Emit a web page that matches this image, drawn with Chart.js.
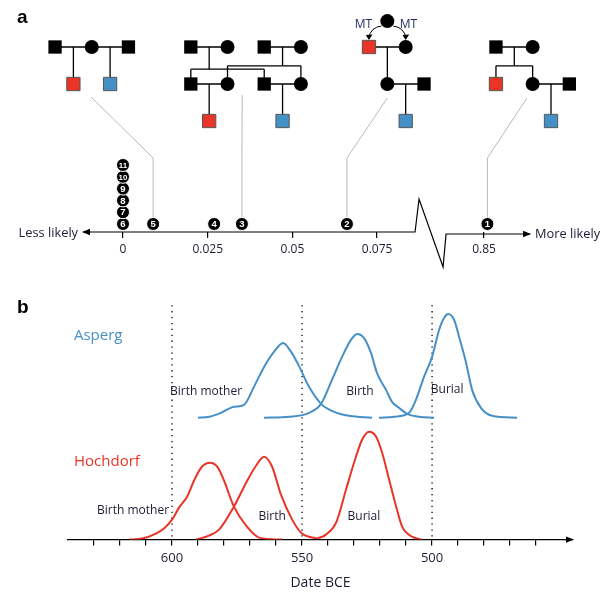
<!DOCTYPE html>
<html>
<head>
<meta charset="utf-8">
<script src="https://cdn.jsdelivr.net/npm/chart.js@4.4.1/dist/chart.umd.min.js"></script>
<style>
  html, body { margin: 0; padding: 0; background: #fff; }
  #wrap { position: relative; width: 611px; height: 595px; }
  #chartA { position: absolute; left: 0; top: 0; }
  #chartB { position: absolute; left: 0; top: 290px; }
</style>
</head>
<body>
<div id="wrap">
  <canvas id="chartA" width="611" height="275"></canvas>
  <canvas id="chartB" width="611" height="305"></canvas>
</div>
<script>
// ---- panel a: likelihood of each numbered pedigree ----
const pedIds   = [6, 7, 8, 9, 10, 11, 5, 4, 3, 2];
const pedLik   = [0, 0, 0, 0, 0, 0, 0.0089, 0.0269, 0.0351, 0.0661];
const pedStack = [0, 1, 2, 3, 4, 5, 0, 0, 0, 0];
const topIds   = [1];
const topLik   = [0.851];
const leftTicks  = [0, 0.025, 0.05, 0.075];
const rightTicks = [0.85];
const axisLeft  = [-0.0118, 0.0862];  // arrow tip, break
const axisRight = [0.8388, 0.8636];   // break, arrow tip

// pedigree drawings (column, generation, kind) in grid units
const famBase = [0, 7.4, 17.11, 24.03];
const famNodes = [
  [[0, 0, 's'], [2, 0, 'c'], [4, 0, 's'], [1, 1, 'r'], [3, 1, 'b']],
  [[0, 0, 's'], [2, 0, 'c'], [4, 0, 's'], [6, 0, 'c'], [0, 1, 's'], [2, 1, 'c'], [4, 1, 's'], [6, 1, 'c'], [1, 2, 'r'], [5, 2, 'b']],
  [[1, -0.7, 'c'], [0, 0, 'r'], [2, 0, 'c'], [1, 1, 'c'], [3, 1, 's'], [2, 2, 'b']],
  [[0, 0, 's'], [2, 0, 'c'], [0, 1, 'r'], [2, 1, 'c'], [4, 1, 's'], [3, 2, 'b']]
];
const famLines = [
  [[0, 0, 2, 0], [2, 0, 4, 0], [1, 0, 1, 1], [3, 0, 3, 1]],
  [[0, 0, 2, 0], [4, 0, 6, 0], [1, 0, 1, 0.6], [0, 0.6, 4, 0.6], [0, 0.6, 0, 1], [4, 0.6, 4, 1],
   [5, 0, 5, 0.51], [2, 0.51, 6, 0.51], [2, 0.51, 2, 1], [6, 0.51, 6, 1],
   [0, 1, 2, 1], [4, 1, 6, 1], [1, 1, 1, 2], [5, 1, 5, 2]],
  [[0, 0, 2, 0], [1, 0, 1, 1], [1, 1, 3, 1], [2, 1, 2, 2]],
  [[0, 0, 2, 0], [1, 0, 1, 0.51], [0, 0.51, 2, 0.51], [0, 0.51, 0, 1], [2, 0.51, 2, 1], [2, 1, 4, 1], [3, 1, 3, 2]]
];
// grey leader from each family to its point on the axis
const leaderFrom = [[1.96, 1.35], [10.2, 1.30], [18.11, 1.38], [25.72, 1.38]];
const leaderTo   = [5, 3, 2, 1];
const leaderKnee = 3.0;

// ---- panel b: date densities (years BCE, relative height) ----
const asMotherDate = [590, 585.8, 581.2, 576.2, 572.3, 568.5, 564.6, 560.8, 557.3, 554.2, 551.2, 547.3, 542.7, 537.7, 531.9, 523.1];
const asMotherDens = [0, 0.01, 0.05, 0.11, 0.13, 0.31, 0.51, 0.66, 0.75, 0.66, 0.52, 0.31, 0.14, 0.06, 0.02, 0];
const asBirthDate  = [564.6, 555, 547.3, 542.7, 538.5, 534.6, 531.2, 528.8, 526.2, 523.5, 521.2, 517.7, 515.4, 512.7, 509.6, 505, 499.2];
const asBirthDens  = [0, 0.01, 0.05, 0.14, 0.38, 0.61, 0.78, 0.84, 0.80, 0.65, 0.45, 0.28, 0.16, 0.10, 0.04, 0.01, 0];
const asBurialDate = [520.4, 514.6, 508.8, 506.2, 503.1, 500, 497.3, 495.4, 493.8, 491.5, 489.6, 486.9, 484.6, 481.2, 476.9, 467.3];
const asBurialDens = [0, 0.01, 0.05, 0.18, 0.41, 0.61, 0.88, 1.0, 1.04, 0.98, 0.81, 0.55, 0.28, 0.10, 0.02, 0];
const hoMotherDate = [616.5, 611.5, 606.2, 603.1, 600, 597.3, 594.2, 591.2, 588.5, 585.4, 582.6, 580, 576.2, 571.2, 566.5, 557.7];
const hoMotherDens = [0, 0.01, 0.06, 0.11, 0.20, 0.32, 0.43, 0.61, 0.73, 0.77, 0.73, 0.59, 0.33, 0.13, 0.02, 0];
const hoBirthDate  = [590.8, 585.8, 581.9, 576.2, 571.5, 567.7, 564.6, 561.5, 558.1, 553.8, 550, 544.2];
const hoBirthDens  = [0, 0.04, 0.10, 0.33, 0.57, 0.74, 0.83, 0.73, 0.45, 0.20, 0.06, 0.01];
const hoBurialDate = [544.2, 540.8, 536.9, 533.1, 530, 526.9, 524.2, 521.5, 519.2, 516.5, 513.8, 511.5, 507.7, 503.8];
const hoBurialDens = [0.01, 0.05, 0.17, 0.50, 0.77, 1.00, 1.08, 1.03, 0.87, 0.60, 0.33, 0.13, 0.03, 0];
const asOffset = 1.22;
const markDates = [600, 550, 500];
const dateTicks = [460, 470, 480, 490, 500, 510, 520, 530, 540, 550, 560, 570, 580, 590, 600, 610, 620, 630];
const curveLabels = ['Birth mother', 'Birth', 'Burial', 'Birth mother', 'Birth', 'Burial'];
const curveLabelAt = [[586.9, 1.48], [527.7, 1.48], [494.2, 1.50], [615, 0.29], [561.5, 0.23], [526.2, 0.23]];
const groupNames = ['Asperg', 'Hochdorf'];
const groupAt = [[637.7, 2.04], [637.7, 0.78]];

const BLUE = '#4690c8';
const RED = '#ea3427';
const TXT = '#1c1c34';
const FAM = '"Open Sans", Roboto, sans-serif';

// ---------- chart A ----------
const dsA = [];
famLines.forEach((lines, f) => {
  lines.forEach(l => dsA.push({
    data: [{ x: famBase[f] + l[0], y: l[1] }, { x: famBase[f] + l[2], y: l[3] }],
    xAxisID: 'xp', yAxisID: 'yp', showLine: true, pointRadius: 0,
    borderColor: '#000', borderWidth: 1.3, order: 3
  }));
});
const kindStyle = {
  s: { pointStyle: 'rect', radius: 9.4, bg: '#000', bc: '#000', bw: 0 },
  c: { pointStyle: 'circle', radius: 7, bg: '#000', bc: '#000', bw: 0 },
  r: { pointStyle: 'rect', radius: 9.4, bg: RED, bc: '#555', bw: 1 },
  b: { pointStyle: 'rect', radius: 9.4, bg: BLUE, bc: '#555', bw: 1 }
};
Object.keys(kindStyle).forEach(k => {
  const st = kindStyle[k];
  const pts = [];
  famNodes.forEach((nodes, f) => nodes.forEach(n => { if (n[2] === k) pts.push({ x: famBase[f] + n[0], y: n[1] }); }));
  dsA.push({
    data: pts, xAxisID: 'xp', yAxisID: 'yp', pointStyle: st.pointStyle, pointRadius: st.radius,
    backgroundColor: st.bg, borderColor: st.bc, borderWidth: st.bw, order: 1
  });
});
const lowIndex = dsA.length;
dsA.push({
  data: pedLik.map((v, i) => ({ x: v, y: pedStack[i] })), xAxisID: 'xl', yAxisID: 'yn',
  pointRadius: 6.5, backgroundColor: '#000', borderColor: '#fff', borderWidth: 1, order: 0, clip: false
});
const highIndex = dsA.length;
dsA.push({
  data: topLik.map(v => ({ x: v, y: 0 })), xAxisID: 'xr', yAxisID: 'yn',
  pointRadius: 6.5, backgroundColor: '#000', borderColor: '#fff', borderWidth: 1, order: 0, clip: false
});

const tickFont = { family: FAM, size: 12 };

const panelA = {
  id: 'panelA',
  beforeDatasetsDraw(chart) {
    const { ctx, scales } = chart;
    const { xp, yp, xl, xr, yn } = scales;
    ctx.save();
    // leader lines
    ctx.strokeStyle = '#b8b8b8';
    ctx.lineWidth = 1;
    leaderFrom.forEach((p, i) => {
      const id = leaderTo[i];
      let px, py;
      const j = pedIds.indexOf(id);
      if (j >= 0) { px = xl.getPixelForValue(pedLik[j]); py = yn.getPixelForValue(pedStack[j]); }
      else { px = xr.getPixelForValue(topLik[topIds.indexOf(id)]); py = yn.getPixelForValue(0); }
      ctx.beginPath();
      ctx.moveTo(xp.getPixelForValue(p[0]), yp.getPixelForValue(p[1]));
      ctx.lineTo(px, yp.getPixelForValue(leaderKnee));
      ctx.lineTo(px, py - 7);
      ctx.stroke();
    });
    // broken axis
    const y0 = xl.top;
    const xa = xl.getPixelForValue(axisLeft[0]);
    const xb = xl.getPixelForValue(axisLeft[1]);
    const xc = xr.getPixelForValue(axisRight[0]);
    const xe = xr.getPixelForValue(axisRight[1]);
    ctx.strokeStyle = '#000';
    ctx.fillStyle = '#000';
    ctx.lineWidth = 1.2;
    ctx.beginPath();
    ctx.moveTo(xa, y0);
    ctx.lineTo(xb, y0);
    ctx.lineTo(xb + 4, y0 - 33);
    ctx.lineTo(xc - 3, y0 + 35);
    ctx.lineTo(xc, y0 + 2);
    ctx.lineTo(xe, y0 + 2);
    ctx.stroke();
    ctx.beginPath();
    ctx.moveTo(xa - 1, y0); ctx.lineTo(xa + 7, y0 - 3.2); ctx.lineTo(xa + 7, y0 + 3.2); ctx.closePath(); ctx.fill();
    ctx.beginPath();
    ctx.moveTo(xe + 1, y0 + 2); ctx.lineTo(xe - 7, y0 - 1.2); ctx.lineTo(xe - 7, y0 + 5.2); ctx.closePath(); ctx.fill();
    ctx.font = '12.8px ' + FAM;
    ctx.fillStyle = TXT;
    ctx.textBaseline = 'middle';
    ctx.textAlign = 'right';
    ctx.fillText('Less likely', xa - 5, y0 + 1);
    ctx.textAlign = 'left';
    ctx.fillText('More likely', xe + 5, y0 + 2);
    // MT arrows
    const cx = xp.getPixelForValue(famBase[2] + 1), cy = yp.getPixelForValue(-0.7);
    const lx = xp.getPixelForValue(famBase[2]), rx = xp.getPixelForValue(famBase[2] + 2);
    const ty = yp.getPixelForValue(0) - 8;
    ctx.strokeStyle = '#000';
    ctx.fillStyle = '#000';
    ctx.lineWidth = 1;
    [[lx, -1], [rx, 1]].forEach(([tx, s]) => {
      ctx.beginPath();
      ctx.moveTo(cx + s * 6, cy + 5);
      ctx.quadraticCurveTo(tx - s * 2, cy + 6, tx + s * 0.5, ty - 1);
      ctx.stroke();
      ctx.beginPath();
      ctx.moveTo(tx, ty + 1);
      ctx.lineTo(tx - 3.2, ty - 4);
      ctx.lineTo(tx + 3.5, ty - 4.5);
      ctx.closePath();
      ctx.fill();
    });
    ctx.fillStyle = '#1e2a5c';
    ctx.font = '12px ' + FAM;
    ctx.textAlign = 'center';
    ctx.fillText('MT', cx - 24, cy + 3);
    ctx.fillText('MT', cx + 21, cy + 3);
    ctx.fillStyle = '#000';
    ctx.font = 'bold 19px "Liberation Sans", Arial, sans-serif';
    ctx.textAlign = 'left';
    ctx.fillText('a', 17, 18);
    ctx.restore();
  },
  afterDatasetsDraw(chart) {
    const { ctx } = chart;
    ctx.save();
    ctx.fillStyle = '#fff';
    ctx.textAlign = 'center';
    ctx.textBaseline = 'middle';
    const put = (el, id) => {
      const s = String(id);
      ctx.font = 'bold ' + (s.length > 1 ? 8 : 9.5) + 'px "Liberation Sans", Arial, sans-serif';
      ctx.fillText(s, el.x, el.y + 0.5);
    };
    chart.getDatasetMeta(lowIndex).data.forEach((el, i) => put(el, pedIds[i]));
    chart.getDatasetMeta(highIndex).data.forEach((el, i) => put(el, topIds[i]));
    ctx.restore();
  }
};

new Chart(document.getElementById('chartA'), {
  type: 'scatter',
  data: { datasets: dsA },
  options: {
    responsive: false,
    animation: false,
    layout: { autoPadding: false, padding: { left: 0, right: 0, top: 0, bottom: 14.6 } },
    plugins: { legend: { display: false }, tooltip: { enabled: false } },
    scales: {
      xp: { type: 'linear', display: false, min: -3, max: 30.3 },
      yp: { type: 'linear', display: false, reverse: true, min: -1.2703, max: 5.0 },
      yn: { type: 'linear', display: false, min: -0.678, max: 18.983 },
      xl: {
        type: 'linear', position: 'bottom', stack: 'lik', stackWeight: 430,
        min: -0.036305, max: 0.090614,
        afterBuildTicks: s => { s.ticks = leftTicks.map(v => ({ value: v })); },
        border: { display: false },
        grid: { drawOnChartArea: false, tickLength: 6, color: '#000', lineWidth: 1.2 },
        ticks: { callback: v => String(v), padding: 4, color: TXT, font: tickFont, maxRotation: 0, autoSkip: false }
      },
      xr: {
        type: 'linear', position: 'bottom', stack: 'lik', stackWeight: 181,
        min: 0.834061, max: 0.887485,
        afterBuildTicks: s => { s.ticks = rightTicks.map(v => ({ value: v })); },
        border: { display: false },
        grid: { drawOnChartArea: false, tickLength: 6, color: '#000', lineWidth: 1.2 },
        ticks: { callback: v => String(v), padding: 4, color: TXT, font: tickFont, maxRotation: 0, autoSkip: false }
      }
    }
  },
  plugins: [panelA]
});

// ---------- chart B ----------
const curve = (dates, dens, off, color) => ({
  data: dates.map((d, i) => ({ x: d, y: dens[i] + off })),
  showLine: true, pointRadius: 0, borderColor: color, borderWidth: 2,
  cubicInterpolationMode: 'monotone', order: 1
});
const dsB = [
  curve(asMotherDate, asMotherDens, asOffset, BLUE),
  curve(asBirthDate, asBirthDens, asOffset, BLUE),
  curve(asBurialDate, asBurialDens, asOffset, BLUE),
  curve(hoMotherDate, hoMotherDens, 0, RED),
  curve(hoBirthDate, hoBirthDens, 0, RED),
  curve(hoBurialDate, hoBurialDens, 0, RED)
];
markDates.forEach(d => dsB.push({
  data: [{ x: d, y: 0.03 }, { x: d, y: 2.35 }], showLine: true, pointRadius: 0,
  borderColor: '#000', borderWidth: 1.3, borderDash: [1.3, 4.6], order: 2
}));

const panelB = {
  id: 'panelB',
  afterDatasetsDraw(chart) {
    const { ctx, scales: { x, y } } = chart;
    ctx.save();
    ctx.textBaseline = 'middle';
    ctx.textAlign = 'center';
    ctx.font = '12px ' + FAM;
    ctx.fillStyle = TXT;
    curveLabels.forEach((t, i) => {
      ctx.fillText(t, x.getPixelForValue(curveLabelAt[i][0]), y.getPixelForValue(curveLabelAt[i][1]));
    });
    ctx.textAlign = 'left';
    ctx.font = '15px ' + FAM;
    [BLUE, RED].forEach((c, i) => {
      ctx.fillStyle = c;
      ctx.fillText(groupNames[i], x.getPixelForValue(groupAt[i][0]), y.getPixelForValue(groupAt[i][1]));
    });
    // arrow at the end of the date axis
    const ay = x.top, ax = x.right;
    ctx.fillStyle = '#000';
    ctx.beginPath();
    ctx.moveTo(ax + 1, ay); ctx.lineTo(ax - 7, ay - 3.2); ctx.lineTo(ax - 7, ay + 3.2); ctx.closePath(); ctx.fill();
    ctx.font = 'bold 19px "Liberation Sans", Arial, sans-serif';
    ctx.fillText('b', 17, 18);
    ctx.restore();
  }
};

new Chart(document.getElementById('chartB'), {
  type: 'scatter',
  data: { datasets: dsB },
  options: {
    responsive: false,
    animation: false,
    layout: { padding: { left: 68, right: 38, top: 10, bottom: 0 } },
    plugins: { legend: { display: false }, tooltip: { enabled: false } },
    scales: {
      x: {
        type: 'linear', reverse: true, min: 445.8, max: 640,
        afterBuildTicks: s => { s.ticks = dateTicks.map(v => ({ value: v })); },
        ticks: { callback: v => (v % 50 === 0 ? String(v) : ''), autoSkip: false, maxRotation: 0, padding: 5, color: TXT, font: { family: FAM, size: 13 } },
        grid: { drawOnChartArea: false, tickLength: 6, color: '#000', lineWidth: 1.2 },
        border: { display: true, color: '#000', width: 1.2 },
        title: { display: true, text: 'Date BCE', color: TXT, font: { family: FAM, size: 14 }, padding: { top: 3, bottom: 4 } }
      },
      y: { type: 'linear', display: false, min: 0, max: 2.4 }
    }
  },
  plugins: [panelB]
});
</script>
</body>
</html>
